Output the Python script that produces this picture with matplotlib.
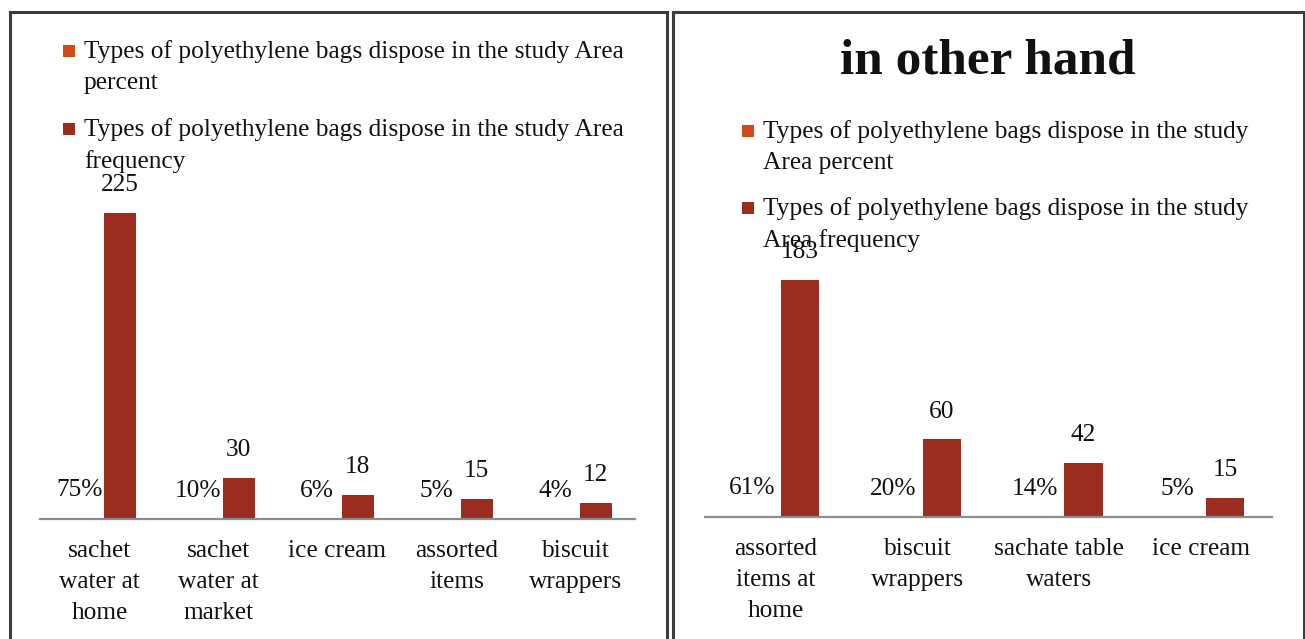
import matplotlib
matplotlib.use("Agg")
import matplotlib.pyplot as plt
from matplotlib.patches import Rectangle
import numpy as np

# ---------------- data ----------------
left_categories = ["sachet\nwater at\nhome", "sachet\nwater at\nmarket", "ice cream",
                   "assorted\nitems", "biscuit\nwrappers"]
left_percent = [0.75, 0.10, 0.06, 0.05, 0.04]
left_frequency = [225, 30, 18, 15, 12]

right_categories = ["assorted\nitems at\nhome", "biscuit\nwrappers", "sachate table\nwaters",
                    "ice cream"]
right_percent = [0.61, 0.20, 0.14, 0.05]
right_frequency = [183, 60, 42, 15]

series_names = ["Types of polyethylene bags dispose in the study Area percent",
                "Types of polyethylene bags dispose in the study Area frequency"]
right_title = "in other hand"

# ---------------- style ----------------
W, H = 1305, 639
DPI = 100
FONT = ["Liberation Serif", "DejaVu Serif"]
FS = 18.3
LS = 1.52
C_PCT = "#D14A18"
C_FRQ = "#9B2C20"
BORDER = "#3c3c3c"

plt.rcParams["font.family"] = FONT

fig = plt.figure(figsize=(W / DPI, H / DPI), dpi=DPI)
fig.patch.set_facecolor("white")


def px_rect(x0, y0, x1, y1):
    """pixel box (top-left origin) -> figure fraction [l, b, w, h]"""
    return [x0 / W, 1 - y1 / H, (x1 - x0) / W, (y1 - y0) / H]


# panel borders
for (x0, y0, x1, y1) in [(9.5, 12, 667, 660), (673, 12, 1304, 660)]:
    fig.add_artist(Rectangle((x0 / W, 1 - y1 / H), (x1 - x0) / W, (y1 - y0) / H,
                             transform=fig.transFigure, fill=False,
                             edgecolor=BORDER, linewidth=2.2, clip_on=False))


def draw_panel(rect, cats, pct, frq, ymax):
    ax = fig.add_axes(rect)
    x = np.arange(len(cats))
    off = 0.17
    w = 0.27
    b1 = ax.bar(x - off, pct, w, color=C_PCT)
    b2 = ax.bar(x + off, frq, w, color=C_FRQ)
    for bar, v in zip(b1, pct):
        ax.annotate(f"{round(v * 100)}%", (bar.get_x() + bar.get_width() / 2, bar.get_height()),
                    xytext=(0, 20), textcoords="offset points", ha="center", va="center",
                    fontsize=FS, color="#111111")
    for bar, v in zip(b2, frq):
        ax.annotate(f"{v}", (bar.get_x() + bar.get_width() / 2, bar.get_height()),
                    xytext=(0, 20), textcoords="offset points", ha="center", va="center",
                    fontsize=FS, color="#111111")
    ax.set_xlim(-0.5, len(cats) - 0.5)
    ax.set_ylim(0, ymax)
    ax.set_xticks(x)
    ax.set_xticklabels(cats, fontsize=FS, linespacing=LS, color="#111111")
    ax.tick_params(axis="x", length=0, pad=15)
    ax.set_yticks([])
    for s in ["top", "left", "right"]:
        ax.spines[s].set_visible(False)
    ax.spines["bottom"].set_color("#8c8c8c")
    ax.spines["bottom"].set_linewidth(1.6)
    ax.patch.set_alpha(0)
    return ax


draw_panel(px_rect(40, 519 - 250 * 1.36, 635, 519), left_categories, left_percent,
           left_frequency, 250)
draw_panel(px_rect(705, 517 - 200 * 1.295, 1272, 517), right_categories, right_percent,
           right_frequency, 200)


def legend(x_marker, y_first, wrap_word, line_gap):
    colors = [C_PCT, C_FRQ]
    for i, (name, col) in enumerate(zip(series_names, colors)):
        words = name.split(" ")
        txt = " ".join(words[:wrap_word]) + "\n" + " ".join(words[wrap_word:])
        yc = y_first + i * line_gap
        fig.add_artist(Rectangle(((x_marker) / W, 1 - (yc + 6) / H), 12 / W, 12 / H,
                                 transform=fig.transFigure, facecolor=col, edgecolor="none"))
        fig.text((x_marker + 21) / W, 1 - (yc - 11) / H, txt, ha="left", va="top",
                 fontsize=FS, linespacing=LS, color="#111111")


legend(63, 51, 9, 78)
legend(742, 131, 8, 77)

fig.text(988 / W, 1 - 61 / H, right_title, ha="center", va="center",
         fontsize=36.9, fontweight="bold", color="#111111")

fig.savefig("out.png", dpi=DPI, facecolor="white")
